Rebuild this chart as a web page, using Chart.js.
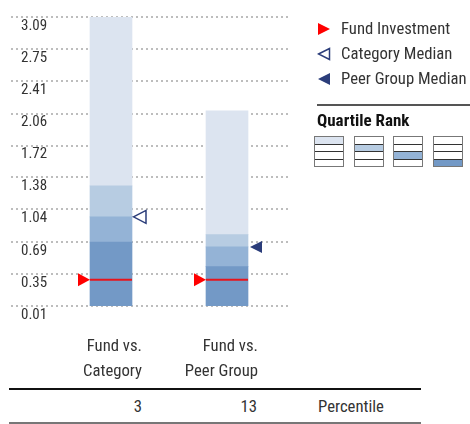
<!DOCTYPE html>
<html>
<head>
<meta charset="utf-8">
<script src="https://cdn.jsdelivr.net/npm/chart.js@4/dist/chart.umd.min.js"></script>
<style>
  body{margin:0;width:470px;height:424px;position:relative;overflow:hidden;background:#fff;
       font-family:'Roboto Condensed','Roboto',sans-serif;color:#333}
  #wrap{position:absolute;left:0;top:0;width:470px;height:380px}
  .abs{position:absolute;white-space:nowrap}
  .leg{font-size:16.7px;line-height:20px}
  .leg svg{position:absolute;left:-24px;top:3px}
  .rule{position:absolute;height:0}
  .qicon{position:absolute;top:136px;width:28px;border:1px solid #777;background:#fff}
  .qicon div{height:6.5px;border-top:1px solid #333}
  .qicon div:first-child{border-top:none}
  .cell{font-size:16.7px;line-height:20px;top:397px}
</style>
</head>
<body>
<div id="wrap"><canvas id="c"></canvas></div>
<div id="legend"></div>
<div id="table"></div>
<script>
// values
const categories = [['Fund vs.', 'Category'], ['Fund vs.', 'Peer Group']];
const yTicks = [0.01, 0.35, 0.69, 1.04, 1.38, 1.72, 2.06, 2.41, 2.75, 3.09];
const barLow = [0.01, 0.01];
const quart1 = [0.69, 0.43];
const quart2 = [0.96, 0.64];
const quart3 = [1.29, 0.77];
const barHigh = [3.09, 2.09];
const fundValues = [0.29, 0.29];
const medians = [0.96, 0.64];          // category median on bar 0, peer group median on bar 1
const percentiles = [3, 13];
const legendLabels = ['Fund Investment', 'Category Median', 'Peer Group Median'];

const quartColors = ['#7399c6', '#94b3d6', '#b7cce2', '#dce4f0'];
const FONT = "'Roboto Condensed','Roboto',sans-serif";
const NAVY = '#2b3d7a', RED = '#ff0000';

const bounds = [barLow, quart1, quart2, quart3, barHigh];
const datasets = quartColors.map((color, q) => ({
  data: categories.map((_, i) => ({x: i, y: [bounds[q][i], bounds[q + 1][i]]})),
  backgroundColor: color,
  borderWidth: 0,
  barThickness: 42,
  grouped: false
}));

function tri(ctx, pts, fill, stroke){
  ctx.beginPath();
  ctx.moveTo(pts[0][0], pts[0][1]);
  ctx.lineTo(pts[1][0], pts[1][1]);
  ctx.lineTo(pts[2][0], pts[2][1]);
  ctx.closePath();
  if(fill){ ctx.fillStyle = fill; ctx.fill(); }
  if(stroke){ ctx.strokeStyle = stroke; ctx.lineWidth = 1.5; ctx.stroke(); }
}

// fund marker line + triangles, median triangles
const markers = {
  id: 'markers',
  afterDatasetsDraw(chart){
    const ctx = chart.ctx, y = chart.scales.y;
    chart.getDatasetMeta(0).data.forEach((bar, i) => {
      const left = bar.x - bar.width / 2, right = bar.x + bar.width / 2;
      const fy = y.getPixelForValue(fundValues[i]);
      ctx.save();
      ctx.strokeStyle = '#e8141b'; ctx.lineWidth = 2;
      ctx.beginPath(); ctx.moveTo(left, fy); ctx.lineTo(right, fy); ctx.stroke();
      tri(ctx, [[left - 12, fy - 6.5], [left - 12, fy + 6.5], [left, fy]], RED);
      const my = y.getPixelForValue(medians[i]);
      if(i === 0) tri(ctx, [[right + 1.5, my], [right + 14, my - 6.5], [right + 14, my + 6.5]], null, NAVY);
      else tri(ctx, [[right + 2, my], [right + 14, my - 6], [right + 14, my + 6]], NAVY);
      ctx.restore();
    });
  }
};

new Chart(document.getElementById('c'), {
  type: 'bar',
  data: {datasets},
  plugins: [markers],
  options: {
    responsive: true,
    maintainAspectRatio: false,
    animation: false,
    layout: {padding: {left: 11, right: 180, top: 17, bottom: 0}},
    plugins: {legend: {display: false}, tooltip: {enabled: false}},
    scales: {
      x: {
        type: 'linear', min: -0.862, max: 1.543, offset: false,
        grid: {display: false}, border: {display: false},
        afterBuildTicks: s => { s.ticks = categories.map((_, i) => ({value: i})); },
        afterFit: s => { s.height = 74; },
        ticks: {
          autoSkip: false, maxRotation: 0, align: 'end', labelOffset: 31, padding: 20,
          color: '#333', font: {family: FONT, size: 16.7, lineHeight: '25px'},
          callback: v => categories[v]
        }
      },
      y: {
        min: yTicks[0], max: yTicks[yTicks.length - 1],
        afterBuildTicks: s => { s.ticks = yTicks.map(v => ({value: v})); },
        afterFit: s => { s.width = 0; s.paddingTop = 0; s.paddingBottom = 0; },
        grid: {color: '#bdbdbd', lineWidth: 2, drawTicks: false},
        border: {display: false, dash: [2, 3]},
        ticks: {
          mirror: true, padding: 10, labelOffset: 9,
          color: '#333', font: {family: FONT, size: 15},
          callback: v => v.toFixed(2)
        }
      }
    }
  }
});

// legend (html)
const lg = document.getElementById('legend');
const legSvg = [
  `<svg width="14" height="14"><polygon points="1,1 13,7 1,13" fill="${RED}"/></svg>`,
  `<svg width="14" height="14"><polygon points="1.5,7 12.5,1.5 12.5,12.5" fill="none" stroke="${NAVY}" stroke-width="1.5"/></svg>`,
  `<svg width="14" height="14"><polygon points="1,7 13,1 13,13" fill="${NAVY}"/></svg>`
];
legendLabels.forEach((t, i) => {
  lg.insertAdjacentHTML('beforeend',
    `<div class="abs leg" style="left:341px;top:${19 + i * 25}px">${legSvg[i]}${t}</div>`);
});
lg.insertAdjacentHTML('beforeend',
  `<div class="rule" style="left:317px;top:104px;width:153px;border-top:2px solid #555"></div>
   <div class="abs" style="left:317px;top:110px;font-size:17px;font-weight:bold;color:#111;line-height:20px">Quartile Rank</div>`);
[314, 354, 393, 433].forEach((x, k) => {
  const rows = [0, 1, 2, 3].map(r => `<div style="background:${r === k ? quartColors[3 - k] : '#fff'}"></div>`).join('');
  lg.insertAdjacentHTML('beforeend', `<div class="qicon" style="left:${x}px">${rows}</div>`);
});

// percentile table (html)
const tb = document.getElementById('table');
tb.insertAdjacentHTML('beforeend',
  `<div class="rule" style="left:9px;top:388px;width:412px;border-top:2px solid #111"></div>
   <div class="rule" style="left:9px;top:422px;width:412px;border-top:2px solid #777"></div>`);
[142, 257].forEach((rx, i) => {
  tb.insertAdjacentHTML('beforeend',
    `<div class="abs cell" style="right:${470 - rx}px">${percentiles[i]}</div>`);
});
tb.insertAdjacentHTML('beforeend', `<div class="abs cell" style="left:318px">Percentile</div>`);
</script>
</body>
</html>
